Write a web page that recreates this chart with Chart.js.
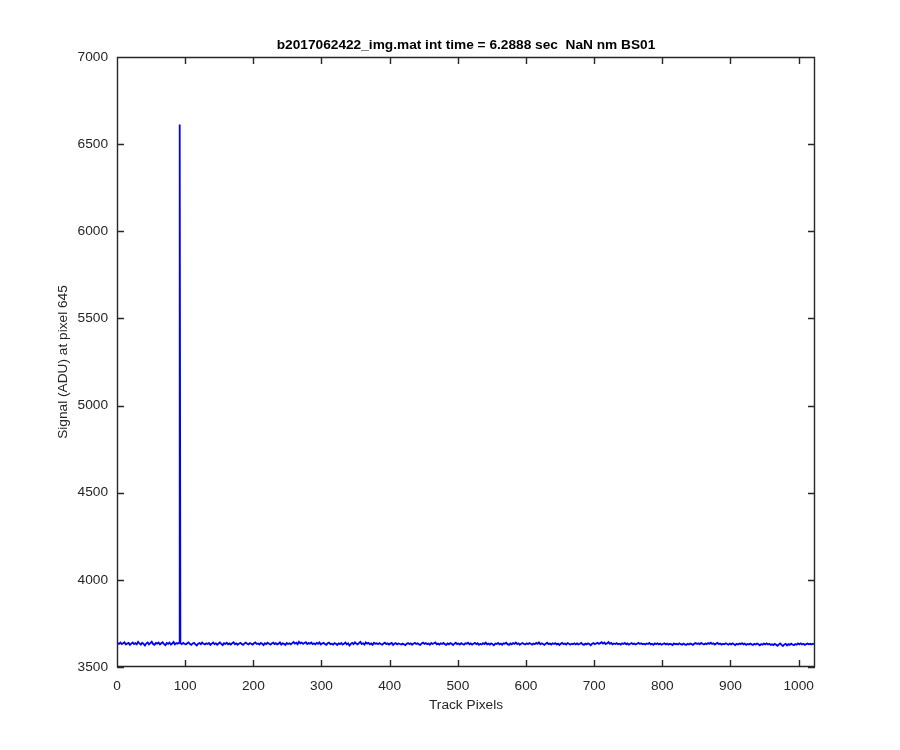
<!DOCTYPE html>
<html>
<head>
<meta charset="utf-8">
<title>b2017062422_img.mat</title>
<script src="https://cdn.jsdelivr.net/npm/chart.js@4/dist/chart.umd.min.js"></script>
<style>
  html, body { margin: 0; padding: 0; background: #ffffff; }
  #wrap { width: 900px; height: 750px; }
</style>
</head>
<body>
<div id="wrap"><canvas id="signalChart" width="900" height="750"></canvas></div>
<script>
// track signal, one sample every 2 pixels (1, 3, 5 ... 1023)
let firstPixel = 1;
let pixelStep = 2;
let signal = [
  3637, 3633, 3640, 3631, 3636, 3642, 3629, 3635, 3638, 3627, 3634, 3641, 3632, 3637, 3630, 3644,
  3635, 3628, 3639, 3633, 3624, 3636, 3641, 3630, 3637, 3645, 3632, 3627, 3638, 3634, 3640, 3629,
  3636, 3642, 3631, 3625, 3638, 3633, 3640, 3629, 3635, 3643, 3630, 3637, 3634, 3639, 3636, 3631,
  3638, 3633, 3629, 3636, 3641, 3632, 3627, 3635, 3639, 3630, 3624, 3634, 3637, 3631, 3640, 3633,
  3629, 3636, 3632, 3638, 3627, 3634, 3640, 3631, 3636, 3628, 3635, 3641, 3633, 3626, 3637, 3632,
  3639, 3630, 3635, 3629, 3637, 3642, 3631, 3636, 3628, 3634, 3639, 3632, 3627, 3635, 3640, 3633,
  3630, 3637, 3633, 3628, 3636, 3641, 3632, 3635, 3629, 3638, 3634, 3626, 3636, 3631, 3639, 3634,
  3628, 3635, 3640, 3632, 3637, 3630, 3634, 3641, 3629, 3636, 3633, 3627, 3638, 3632, 3636, 3630,
  3637, 3643, 3634, 3639, 3631, 3645, 3636, 3640, 3633, 3638, 3642, 3632, 3637, 3634, 3640, 3631,
  3636, 3630, 3638, 3633, 3641, 3629, 3635, 3639, 3632, 3627, 3636, 3640, 3631, 3634, 3629, 3637,
  3633, 3626, 3635, 3631, 3638, 3629, 3634, 3640, 3630, 3636, 3624, 3633, 3638, 3631, 3642, 3635,
  3630, 3637, 3644, 3632, 3636, 3629, 3641, 3634, 3638, 3630, 3635, 3627, 3639, 3633, 3636, 3631,
  3637, 3632, 3628, 3635, 3640, 3631, 3636, 3629, 3634, 3638, 3627, 3633, 3637, 3630, 3635, 3632,
  3629, 3634, 3630, 3625, 3633, 3637, 3631, 3636, 3628, 3634, 3639, 3632, 3636, 3630, 3627, 3635,
  3640, 3633, 3637, 3631, 3635, 3628, 3638, 3632, 3636, 3641, 3630, 3634, 3629, 3636, 3632, 3638,
  3631, 3627, 3635, 3630, 3637, 3633, 3626, 3634, 3639, 3631, 3635, 3629, 3637, 3632, 3628, 3636,
  3633, 3639, 3630, 3635, 3628, 3634, 3638, 3631, 3636, 3627, 3633, 3629, 3637, 3632, 3640, 3630,
  3634, 3629, 3636, 3631, 3625, 3635, 3632, 3638, 3630, 3634, 3628, 3636, 3633, 3639, 3631, 3627,
  3635, 3630, 3637, 3633, 3640, 3631, 3636, 3628, 3634, 3638, 3632, 3629, 3636, 3631, 3637, 3633,
  3628, 3635, 3631, 3638, 3633, 3641, 3630, 3636, 3632, 3627, 3634, 3639, 3631, 3635, 3629, 3636,
  3632, 3637, 3630, 3634, 3626, 3633, 3638, 3631, 3635, 3629, 3637, 3633, 3628, 3634, 3631, 3636,
  3630, 3635, 3629, 3633, 3638, 3631, 3627, 3634, 3630, 3636, 3632, 3625, 3633, 3637, 3631, 3635,
  3639, 3633, 3637, 3642, 3634, 3640, 3631, 3636, 3643, 3633, 3638, 3630, 3635, 3632, 3637, 3631,
  3634, 3629, 3636, 3632, 3638, 3630, 3635, 3628, 3633, 3637, 3631, 3635, 3629, 3634, 3639, 3632,
  3636, 3631, 3634, 3629, 3635, 3632, 3638, 3630, 3633, 3627, 3635, 3631, 3636, 3630, 3634, 3628,
  3632, 3636, 3630, 3634, 3628, 3633, 3631, 3626, 3635, 3630, 3633, 3629, 3636, 3631, 3628, 3634,
  3630, 3626, 3633, 3629, 3635, 3631, 3627, 3634, 3637, 3632, 3636, 3630, 3638, 3633, 3629, 3635,
  3631, 3637, 3633, 3639, 3632, 3636, 3629, 3634, 3638, 3631, 3635, 3628, 3633, 3630, 3636, 3632,
  3628, 3634, 3630, 3636, 3631, 3626, 3633, 3629, 3635, 3631, 3637, 3630, 3634, 3627, 3632, 3629,
  3634, 3630, 3627, 3633, 3629, 3635, 3631, 3625, 3632, 3628, 3634, 3630, 3636, 3629, 3633, 3627,
  3631, 3626, 3633, 3628, 3622, 3630, 3635, 3627, 3620, 3629, 3633, 3624, 3631, 3627, 3634, 3629,
  3625, 3632, 3628, 3635, 3630, 3636, 3629, 3633, 3627, 3631, 3635, 3630, 3633, 3629, 3634, 3631
];
let lastPixel = 1024;
let lastValue = 3632;

// the single hot pixel
let spikePixel = 92;
let spikeValue = 6612;

let xTicks = [0, 100, 200, 300, 400, 500, 600, 700, 800, 900, 1000];
let yTicks = [3500, 4000, 4500, 5000, 5500, 6000, 6500, 7000];

let titleText = 'b2017062422_img.mat int time = 6.2888 sec  NaN nm BS01';
let xLabel = 'Track Pixels';
let yLabel = 'Signal (ADU) at pixel 645';

let axisColor = '#262626';
let fontFamily = '"Liberation Sans", Arial, Helvetica, sans-serif';
let fontSize = 13.7;

function buildPoints() {
    let points = [];
    signal.forEach((v, i) => {
        points.push({ x: firstPixel + i * pixelStep, y: v });
    });
    points.push({ x: lastPixel, y: lastValue });
    points.push({ x: spikePixel, y: spikeValue });
    points.sort((a, b) => a.x - b.x);
    return points;
}

// matlab style box with inward ticks on all four sides, title centred on the axes
let boxPlugin = {
    id: 'matlabBox',
    afterDraw(chart) {
        let ctx = chart.ctx;
        let area = chart.chartArea;
        let xs = chart.scales.x;
        let ys = chart.scales.y;
        let len = 7;
        ctx.save();
        ctx.strokeStyle = axisColor;
        ctx.lineWidth = 1.4;
        ctx.beginPath();
        ctx.rect(area.left + 0.5, area.top + 0.5, area.right - area.left - 1, area.bottom - area.top - 1);
        xTicks.forEach((t) => {
            let px = Math.round(xs.getPixelForValue(t)) + 0.5;
            ctx.moveTo(px, area.bottom);
            ctx.lineTo(px, area.bottom - len);
            ctx.moveTo(px, area.top);
            ctx.lineTo(px, area.top + len);
        });
        yTicks.forEach((t) => {
            let py = Math.round(ys.getPixelForValue(t)) + 0.5;
            ctx.moveTo(area.left, py);
            ctx.lineTo(area.left + len, py);
            ctx.moveTo(area.right, py);
            ctx.lineTo(area.right - len, py);
        });
        ctx.stroke();

        ctx.fillStyle = '#000000';
        ctx.font = 'bold ' + fontSize + 'px ' + fontFamily;
        ctx.textAlign = 'center';
        ctx.textBaseline = 'middle';
        ctx.fillText(titleText, (area.left + area.right) / 2, area.top - 12);
        ctx.restore();
    }
};

function drawChart() {
    let ctx = document.getElementById('signalChart').getContext('2d');
    let chart = new Chart(ctx, {
        type: 'line',
        data: {
            datasets: [{
                data: buildPoints(),
                borderColor: '#0000ff',
                backgroundColor: '#0000ff',
                borderWidth: 1.8,
                pointRadius: 0,
                tension: 0,
                fill: false
            }]
        },
        options: {
            responsive: false,
            animation: false,
            layout: { padding: { left: 0, right: 85, top: 57, bottom: 0 } },
            plugins: {
                legend: { display: false },
                tooltip: { enabled: false },
                title: { display: false }
            },
            scales: {
                x: {
                    type: 'linear',
                    min: 0,
                    max: 1024,
                    grid: { display: false, drawTicks: false },
                    border: { display: false },
                    afterBuildTicks: (scale) => {
                        scale.ticks = xTicks.map((v) => ({ value: v }));
                    },
                    afterFit: (scale) => { scale.height = 83; },
                    ticks: {
                        color: axisColor,
                        padding: 11,
                        maxRotation: 0,
                        font: { family: fontFamily, size: fontSize },
                        callback: (v) => String(v)
                    },
                    title: {
                        display: true,
                        text: xLabel,
                        color: axisColor,
                        font: { family: fontFamily, size: fontSize },
                        padding: { top: 0, bottom: 37 }
                    }
                },
                y: {
                    type: 'linear',
                    min: 3500,
                    max: 7000,
                    grid: { display: false, drawTicks: false },
                    border: { display: false },
                    afterBuildTicks: (scale) => {
                        scale.ticks = yTicks.map((v) => ({ value: v }));
                    },
                    afterFit: (scale) => { scale.width = 117; },
                    ticks: {
                        color: axisColor,
                        padding: 9,
                        font: { family: fontFamily, size: fontSize },
                        callback: (v) => String(v)
                    },
                    title: {
                        display: true,
                        text: yLabel,
                        color: axisColor,
                        font: { family: fontFamily, size: fontSize },
                        padding: { top: 55, bottom: 0 }
                    }
                }
            }
        },
        plugins: [boxPlugin]
    });
}

drawChart();
</script>
</body>
</html>
